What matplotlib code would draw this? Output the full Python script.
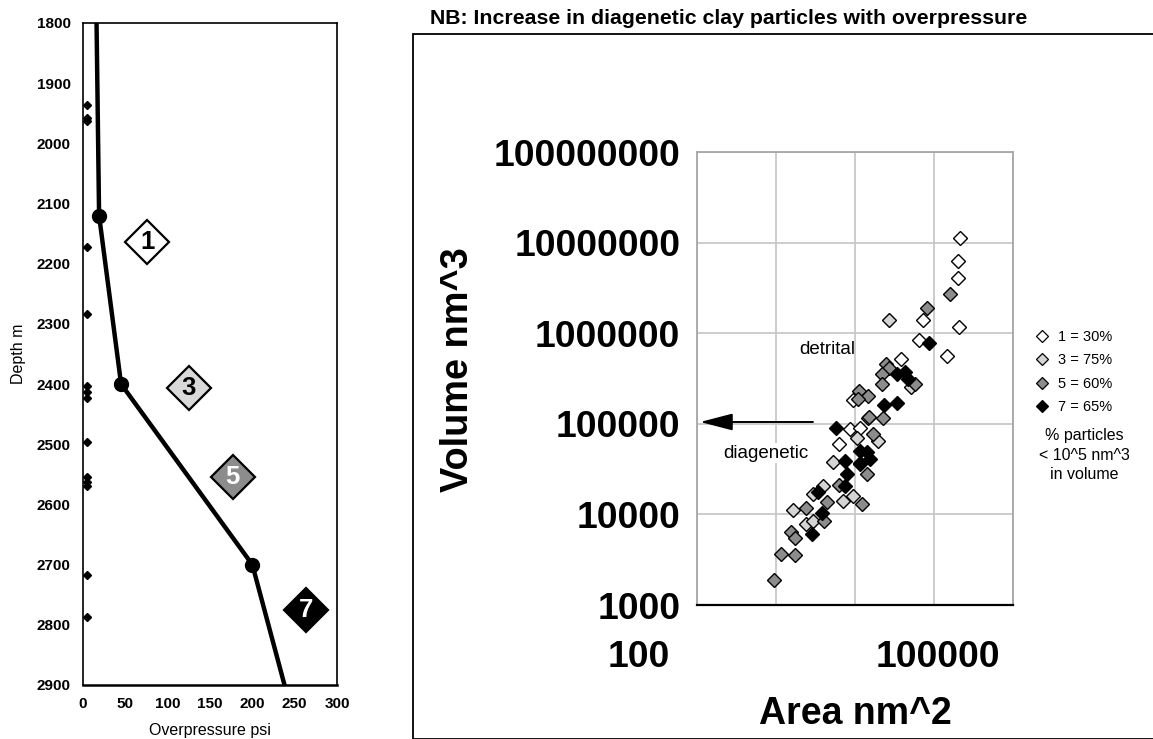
import matplotlib
matplotlib.use("Agg")
import matplotlib.pyplot as plt
from matplotlib.lines import Line2D
from matplotlib.patches import Rectangle
from matplotlib.ticker import FixedLocator, FixedFormatter, NullLocator
from matplotlib.transforms import ScaledTranslation

plt.rcParams['font.family'] = ['Liberation Sans', 'DejaVu Sans']

# ---------------- overpressure profile (left) ----------------
profile_psi = [16, 19, 45, 200, 238]
profile_depth = [1800, 2120, 2400, 2700, 2900]

core_psi = [5, 5, 5, 5, 5, 5, 5, 5, 5, 5, 5, 5, 5, 5]
core_depth = [1936, 1958, 1963, 2172, 2284, 2403, 2413, 2423,
              2496, 2554, 2562, 2569, 2718, 2787]

sample_ids = ['1', '3', '5', '7']
sample_psi = [76, 125, 177, 263]
sample_depth = [2164, 2407, 2554, 2775]
sample_fill = ['white', '#d9d9d9', '#8c8c8c', 'black']
sample_text = ['black', 'black', 'white', 'white']

depth_ticks = list(range(1800, 3000, 100))
psi_ticks = [0, 50, 100, 150, 200, 250, 300]

# ---------------- particle area vs volume (right) ----------------
series_labels = ['1 = 30%', '3 = 75%', '5 = 60%', '7 = 65%']
series_fill = ['white', '#d4d4d4', '#8c8c8c', 'black']

area_1 = [211000, 200000, 200000, 71600, 205000, 63700, 144500, 38700,
          9500, 8700, 11700, 6300]
volume_1 = [1.11e7, 6.3e6, 4.1e6, 1.41e6, 1.18e6, 848000, 564000, 523000,
            184000, 88100, 90300, 60100]

area_3 = [27300, 51900, 10700, 19800, 14800, 5300, 3950, 2950, 7100, 9500,
          1650, 2400, 2950]
volume_3 = [1.41e6, 256000, 70000, 64900, 116000, 38000, 20700, 16900,
            14100, 16000, 11200, 7850, 8470]

area_5 = [158000, 80500, 25000, 27300, 22200, 58300, 22200, 11400, 14800,
          11000, 15200, 22900, 17100, 11700, 14300, 6300, 4450, 12400, 2400,
          4070, 1550, 1740, 1160, 1740, 944]
volume_5 = [2.73e6, 1.91e6, 460000, 416000, 357000, 277000, 277000, 232000,
            204000, 189000, 119000, 116000, 77600, 36100, 28100, 21200,
            13700, 13100, 11800, 8470, 6400, 5500, 3660, 3560, 1890]

area_7 = [85300, 34400, 43500, 46200, 23600, 34400, 5780, 11700, 14300,
          15600, 11700, 7540, 7980, 7540, 3420, 3840, 2860]
volume_7 = [785000, 357000, 376000, 314000, 162000, 171000, 90300, 50300,
            49100, 41000, 37100, 39000, 28100, 20700, 17700, 10400, 6100]

area_ticks = [100, 1000, 10000, 100000, 1000000]
area_labels = ['100', '', '', '100000', '']
volume_ticks = [1e3, 1e4, 1e5, 1e6, 1e7, 1e8]
volume_labels = ['1000', '10000', '100000', '1000000', '10000000',
                 '100000000']

W, H = 1153, 739
fig = plt.figure(figsize=(W / 100, H / 100), dpi=100)
fig.patch.set_facecolor('white')


def axes_px(left, top, right, bottom):
    return fig.add_axes([left / W, 1 - bottom / H,
                         (right - left) / W, (bottom - top) / H])


# ---- left panel ----
axL = axes_px(83, 23, 337, 685)
axL.set_xlim(0, 300)
axL.set_ylim(2900, 1800)
axL.set_xticks(psi_ticks)
axL.set_yticks(depth_ticks)
axL.tick_params(length=0, labelsize=11, pad=9)
for lab in axL.get_xticklabels() + axL.get_yticklabels():
    lab.set_fontweight('bold')
for s in axL.spines.values():
    s.set_linewidth(1.2)
axL.spines['bottom'].set_linewidth(1.8)

axL.plot(profile_psi, profile_depth, color='black', lw=3.2,
         marker='o', ms=10, markevery=[1, 2, 3], zorder=3)
axL.plot(core_psi, core_depth, ls='none', marker='D', ms=4,
         color='black', clip_on=False, zorder=4)
for sid, x, y, fc, tc in zip(sample_ids, sample_psi, sample_depth,
                             sample_fill, sample_text):
    axL.plot([x], [y], ls='none', marker='D', ms=22, mfc=fc,
             mec='black', mew=1.6, zorder=5)
    axL.text(x, y, sid, ha='center', va='center', fontsize=18.5,
             fontweight='bold', color=tc, zorder=6)

axL.set_xlabel('Overpressure psi', fontsize=11.5, labelpad=8)
axL.set_ylabel('Depth m', fontsize=11.5)
axL.yaxis.set_label_coords(-0.225, 0.5)

# ---- frame and heading of the right panel ----
fig.add_artist(Rectangle((413 / W, 0), 1.2, 1 - 34 / H,
                         transform=fig.transFigure, fill=False,
                         ec='black', lw=1.3))
fig.text(430 / W, 1 - 19 / H,
         'NB: Increase in diagenetic clay particles with overpressure',
         ha='left', va='center', fontsize=15.3, fontweight='bold')

# ---- right panel ----
axR = axes_px(697, 152, 1013, 605)
axR.set_xscale('log')
axR.set_yscale('log')
axR.set_xlim(100, 1e6)
axR.set_ylim(1e3, 1e8)
axR.xaxis.set_major_locator(FixedLocator(area_ticks))
axR.xaxis.set_major_formatter(FixedFormatter(area_labels))
axR.yaxis.set_major_locator(FixedLocator(volume_ticks))
axR.yaxis.set_major_formatter(FixedFormatter(volume_labels))
axR.xaxis.set_minor_locator(NullLocator())
axR.yaxis.set_minor_locator(NullLocator())
axR.tick_params(axis='y', length=0, labelsize=26.8, pad=12)
axR.tick_params(axis='x', length=0, labelsize=26.8, pad=25)
for lab in axR.get_xticklabels() + axR.get_yticklabels():
    lab.set_fontweight('bold')
axR.grid(True, color='#c8c8c8', lw=1.3)
axR.set_axisbelow(True)
for side in ('left', 'top', 'right'):
    axR.spines[side].set_color('#a6a6a6')
    axR.spines[side].set_linewidth(1.3)
axR.spines['bottom'].set_linewidth(1.6)

# the first area label sits left of its gridline, the last one a bit right
x_ticks = axR.xaxis.get_major_ticks()
x_ticks[0].label1.set_transform(
    x_ticks[0].label1.get_transform()
    + ScaledTranslation(-0.58, 0, fig.dpi_scale_trans))
x_ticks[3].label1.set_transform(
    x_ticks[3].label1.get_transform()
    + ScaledTranslation(0.04, 0, fig.dpi_scale_trans))

areas = [area_1, area_3, area_5, area_7]
volumes = [volume_1, volume_3, volume_5, volume_7]
for a, v, fc, lbl in zip(areas, volumes, series_fill, series_labels):
    axR.plot(a, v, ls='none', marker='D', ms=7.4, mfc=fc, mec='black',
             mew=1.0, label=lbl, zorder=3)

axR.set_xlabel('Area nm^2', fontsize=27, fontweight='bold', labelpad=15)
axR.set_ylabel('Volume nm^3', fontsize=27.3, fontweight='bold')
axR.yaxis.set_label_coords(-0.70, 0.52)

axR.text(0.411, 0.565, 'detrital', transform=axR.transAxes,
         ha='center', va='center', fontsize=13.5)
axR.text(0.218, 0.335, 'diagenetic', transform=axR.transAxes,
         ha='center', va='center', fontsize=13.5,
         bbox=dict(fc='white', ec='none', pad=1))
axR.annotate('', xy=(0.01, 0.404), xycoords='axes fraction',
             xytext=(0.367, 0.404), textcoords='axes fraction',
             arrowprops=dict(arrowstyle='-|>,head_length=1.0,head_width=0.26',
                             mutation_scale=20, lw=1.4, color='black',
                             shrinkA=0, shrinkB=0))

handles = [Line2D([], [], ls='none', marker='D', ms=6.3, mfc=fc,
                  mec='black', mew=0.9) for fc in series_fill]
fig.legend(handles, series_labels, loc='upper left',
           bbox_to_anchor=(1035 / W, 1 - 330 / H), frameon=False,
           fontsize=10.5, borderpad=0, borderaxespad=0, handlelength=1.0,
           handletextpad=0.6, labelspacing=0.64)
fig.text(1084 / W, 1 - 455 / H, '% particles\n< 10^5 nm^3\nin volume',
         ha='center', va='center', fontsize=11.5, linespacing=1.35)

fig.savefig('out.png', dpi=100, facecolor='white')
